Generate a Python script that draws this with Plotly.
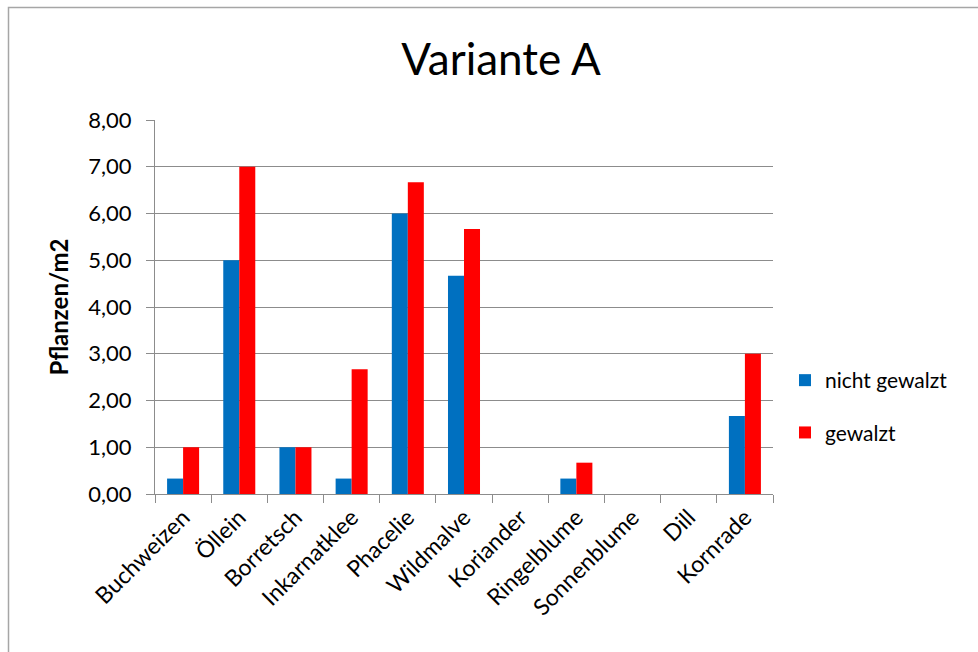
import plotly.graph_objects as go

# Plant counts per square metre, variant A
categories = ["Buchweizen", "Öllein", "Borretsch", "Inkarnatklee", "Phacelie",
              "Wildmalve", "Koriander", "Ringelblume", "Sonnenblume", "Dill", "Kornrade"]
nicht_gewalzt = [0.33, 5.00, 1.00, 0.33, 6.00, 4.67, 0.00, 0.33, 0.00, 0.00, 1.67]
gewalzt = [1.00, 7.00, 1.00, 2.67, 6.67, 5.67, 0.00, 0.67, 0.00, 0.00, 3.00]

FONT = "Lato"
GRID = "#8c8c8c"

fig = go.Figure()
fig.add_trace(go.Bar(x=categories, y=nicht_gewalzt, name="nicht gewalzt",
                     marker=dict(color="#0070C0", line=dict(width=0)),
                     legendgroup="a"))
fig.add_trace(go.Bar(x=categories, y=gewalzt, name="gewalzt",
                     marker=dict(color="#FF0000", line=dict(width=0)),
                     legendgroup="b"))

W, H = 978, 652
L, R, T, B = 155, 205, 120, 158
pw, ph = W - L - R, H - T - B

def px_x(x):
    return (x - L) / pw

def px_y(y):
    return (H - B - y) / ph

fig.update_layout(
    width=W, height=H,
    margin=dict(l=L, r=R, t=T, b=B),
    paper_bgcolor="white", plot_bgcolor="white",
    separators=",.",
    barmode="group", bargap=0.43, bargroupgap=0,
    font=dict(family=FONT, size=22, color="black"),
    title=dict(text="Variante A", xref="container", x=501 / W, xanchor="center",
               y=1 - 60 / H, yanchor="middle",
               font=dict(family=FONT, size=44, color="black")),
    legend=dict(x=px_x(785), xanchor="left", y=px_y(360), yanchor="top",
                font=dict(family=FONT, size=21), tracegroupgap=22,
                itemwidth=30, bgcolor="rgba(0,0,0,0)"),
    xaxis=dict(type="category", tickangle=-45, tickson="boundaries",
               ticks="outside", ticklen=8, tickcolor=GRID,
               showline=True, linecolor=GRID, linewidth=1,
               showgrid=False, tickfont=dict(family=FONT, size=23)),
    yaxis=dict(range=[0, 8], dtick=1, tickformat=".2f",
               ticks="outside", ticklen=8, tickcolor=GRID,
               ticklabelstandoff=10,
               showline=True, linecolor=GRID, linewidth=1,
               showgrid=True, gridcolor=GRID, gridwidth=1, zeroline=False,
               tickfont=dict(family=FONT, size=22),
               title=dict(text="<b>Pflanzen/m2</b>", standoff=12,
                          font=dict(family=FONT, size=24))),
    shapes=[dict(type="rect", xref="paper", yref="paper",
                 x0=px_x(8.5), x1=px_x(990), y0=px_y(665), y1=px_y(7.5),
                 line=dict(color="#a6a6a6", width=1.5), layer="below")],
)

fig.write_html("out.html")
